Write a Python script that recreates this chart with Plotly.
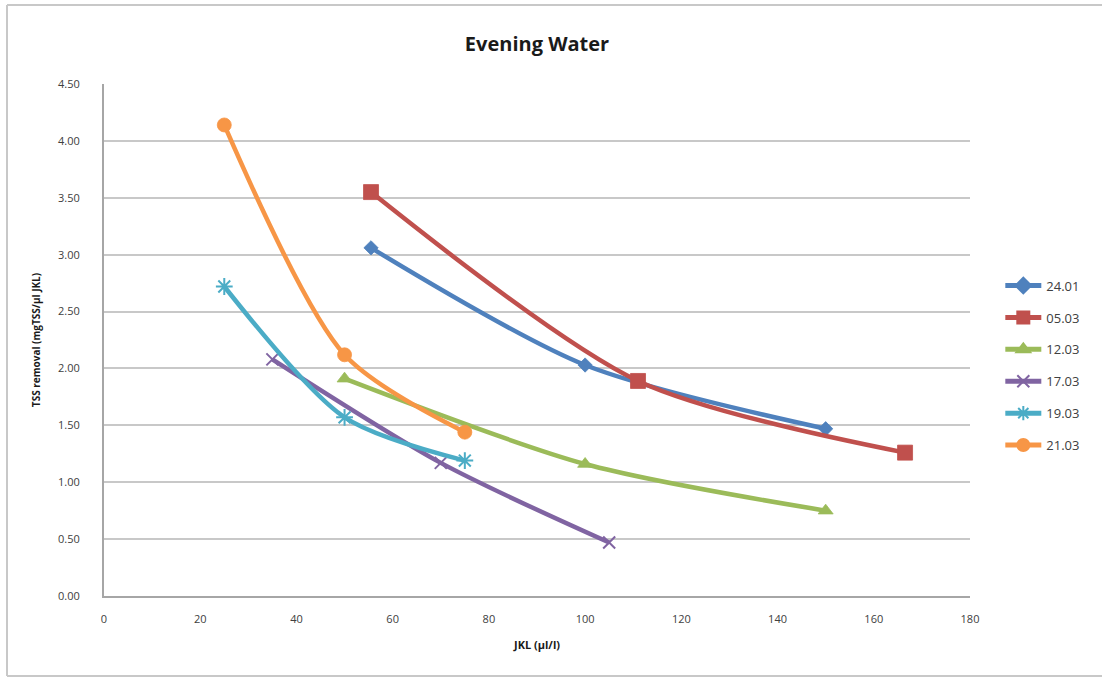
import plotly.graph_objects as go

names = ["24.01", "05.03", "12.03", "17.03", "19.03", "21.03"]
x_24_01 = [55.5, 100, 150]
y_24_01 = [3.06, 2.03, 1.47]
x_05_03 = [55.5, 111, 166.5]
y_05_03 = [3.55, 1.89, 1.26]
x_12_03 = [50, 100, 150]
y_12_03 = [1.91, 1.16, 0.75]
x_17_03 = [35, 70, 105]
y_17_03 = [2.08, 1.17, 0.47]
x_19_03 = [25, 50, 75]
y_19_03 = [2.72, 1.57, 1.19]
x_21_03 = [25, 50, 75]
y_21_03 = [4.14, 2.12, 1.44]

xs = [x_24_01, x_05_03, x_12_03, x_17_03, x_19_03, x_21_03]
ys = [y_24_01, y_05_03, y_12_03, y_17_03, y_19_03, y_21_03]
colors = ["#4F81BD", "#C0504D", "#9BBB59", "#8064A2", "#4BACC6", "#F79646"]
symbols = ["diamond", "square", "triangle-up", "x-thin", "asterisk", "circle"]
sizes = [11, 15, 13, 12, 14, 14]

fig = go.Figure()
for n, x, y, c, s, sz in zip(names, xs, ys, colors, symbols, sizes):
    thin = s in ("x-thin", "asterisk")
    fig.add_trace(go.Scatter(
        x=x, y=y, name=n, mode="lines+markers", legendgroup=n,
        line=dict(color=c, width=4.5, shape="spline", smoothing=0.8),
        marker=dict(symbol=s, size=sz, color=c,
                    line=dict(color=c, width=2 if thin else 0.8)),
    ))

fig.update_layout(
    width=1102, height=677,
    paper_bgcolor="white", plot_bgcolor="white",
    margin=dict(l=104, r=132, t=84, b=81),
    font=dict(family="Open Sans, sans-serif", color="#404040", size=11),
    title=dict(text="<b>Evening Water</b>", x=0.5, xanchor="center", xref="paper",
               y=0.935, yanchor="middle",
               font=dict(size=20, color="#1a1a1a", family="Open Sans, sans-serif")),
    showlegend=True,
    legend=dict(x=1.035, xanchor="left", y=0.45, yanchor="middle",
                font=dict(size=13, color="#404040"), tracegroupgap=12,
                itemwidth=36, itemsizing="constant", bgcolor="rgba(0,0,0,0)"),
    xaxis=dict(range=[0, 180], dtick=20, tick0=0, showgrid=False,
               showline=True, linecolor="#A6A6A6", linewidth=2, zeroline=False,
               ticks="", ticklabelstandoff=12, tickfont=dict(size=11, color="#404040"),
               title=dict(text="<b>JKL (µl/l)</b>", font=dict(size=11, color="#1a1a1a"), standoff=16)),
    yaxis=dict(range=[0, 4.5], dtick=0.5, tick0=0, tickformat=".2f",
               showgrid=True, gridcolor="#C8C8C8", gridwidth=2,
               showline=True, linecolor="#A6A6A6", linewidth=2, zeroline=False,
               ticks="", ticklabelstandoff=20, tickfont=dict(size=11, color="#404040"),
               title=dict(text="<b>TSS removal (mgTSS/µl JKL)</b>", font=dict(size=10, color="#1a1a1a"), standoff=16)),
)

# outer chart frame (left, top, bottom edges)
fig.add_shape(type="line", xref="paper", yref="paper",
              x0=(7 - 104) / 866, x1=(7 - 104) / 866, y0=(596 - 676) / 512, y1=(596 - 5) / 512,
              line=dict(color="#C8C8C8", width=2))
fig.add_shape(type="line", xref="paper", yref="paper",
              x0=(7 - 104) / 866, x1=(1102 - 104) / 866, y0=(596 - 5) / 512, y1=(596 - 5) / 512,
              line=dict(color="#C8C8C8", width=2))
fig.add_shape(type="line", xref="paper", yref="paper",
              x0=(7 - 104) / 866, x1=(1102 - 104) / 866, y0=(596 - 676) / 512, y1=(596 - 676) / 512,
              line=dict(color="#C8C8C8", width=2))

fig.write_html("out.html")
